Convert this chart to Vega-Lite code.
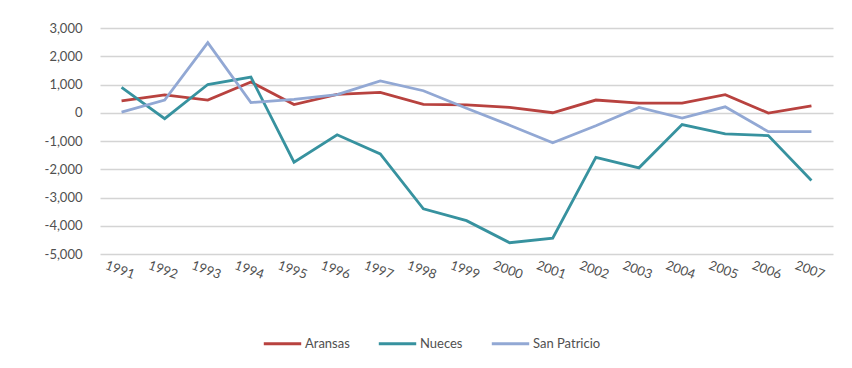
{
  "$schema": "https://vega.github.io/schema/vega-lite/v6.json",
  "width": 733,
  "height": 226,
  "autosize": {"type": "none"},
  "padding": {"left": 100, "top": 28, "right": 19, "bottom": 114},
  "background": "white",
  "config": {
    "view": {"stroke": null},
    "font": "Lato",
    "axis": {"labelFont": "Lato", "labelColor": "#505050", "labelFontSize": 13},
    "legend": {"labelFont": "Lato", "labelColor": "#505050", "labelFontSize": 13}
  },
  "data": {
    "values": [
      {"year": "1991", "county": "Aransas", "value": 420},
      {"year": "1992", "county": "Aransas", "value": 630},
      {"year": "1993", "county": "Aransas", "value": 450},
      {"year": "1994", "county": "Aransas", "value": 1090},
      {"year": "1995", "county": "Aransas", "value": 290},
      {"year": "1996", "county": "Aransas", "value": 650},
      {"year": "1997", "county": "Aransas", "value": 720},
      {"year": "1998", "county": "Aransas", "value": 300},
      {"year": "1999", "county": "Aransas", "value": 280},
      {"year": "2000", "county": "Aransas", "value": 190},
      {"year": "2001", "county": "Aransas", "value": 0},
      {"year": "2002", "county": "Aransas", "value": 450},
      {"year": "2003", "county": "Aransas", "value": 340},
      {"year": "2004", "county": "Aransas", "value": 340},
      {"year": "2005", "county": "Aransas", "value": 640},
      {"year": "2006", "county": "Aransas", "value": -10},
      {"year": "2007", "county": "Aransas", "value": 240},
      {"year": "1991", "county": "Nueces", "value": 900},
      {"year": "1992", "county": "Nueces", "value": -210},
      {"year": "1993", "county": "Nueces", "value": 1000},
      {"year": "1994", "county": "Nueces", "value": 1260},
      {"year": "1995", "county": "Nueces", "value": -1750},
      {"year": "1996", "county": "Nueces", "value": -780},
      {"year": "1997", "county": "Nueces", "value": -1460},
      {"year": "1998", "county": "Nueces", "value": -3400},
      {"year": "1999", "county": "Nueces", "value": -3820},
      {"year": "2000", "county": "Nueces", "value": -4600},
      {"year": "2001", "county": "Nueces", "value": -4440},
      {"year": "2002", "county": "Nueces", "value": -1580},
      {"year": "2003", "county": "Nueces", "value": -1950},
      {"year": "2004", "county": "Nueces", "value": -420},
      {"year": "2005", "county": "Nueces", "value": -750},
      {"year": "2006", "county": "Nueces", "value": -810},
      {"year": "2007", "county": "Nueces", "value": -2400},
      {"year": "1991", "county": "San Patricio", "value": 20},
      {"year": "1992", "county": "San Patricio", "value": 450},
      {"year": "1993", "county": "San Patricio", "value": 2480},
      {"year": "1994", "county": "San Patricio", "value": 360},
      {"year": "1995", "county": "San Patricio", "value": 470},
      {"year": "1996", "county": "San Patricio", "value": 640},
      {"year": "1997", "county": "San Patricio", "value": 1130},
      {"year": "1998", "county": "San Patricio", "value": 780},
      {"year": "1999", "county": "San Patricio", "value": 160},
      {"year": "2000", "county": "San Patricio", "value": -440},
      {"year": "2001", "county": "San Patricio", "value": -1060},
      {"year": "2002", "county": "San Patricio", "value": -460},
      {"year": "2003", "county": "San Patricio", "value": 190},
      {"year": "2004", "county": "San Patricio", "value": -190},
      {"year": "2005", "county": "San Patricio", "value": 210},
      {"year": "2006", "county": "San Patricio", "value": -670},
      {"year": "2007", "county": "San Patricio", "value": -670}
    ]
  },
  "mark": {"type": "line", "strokeWidth": 2.8},
  "encoding": {
    "x": {
      "field": "year",
      "type": "ordinal",
      "title": null,
      "axis": {
        "labelAngle": 20,
        "labelAlign": "center",
        "labelBaseline": "top",
        "labelPadding": 10,
        "ticks": false,
        "domain": false,
        "grid": false
      }
    },
    "y": {
      "field": "value",
      "type": "quantitative",
      "title": null,
      "scale": {"domain": [-5000, 3000], "nice": false},
      "axis": {
        "values": [-5000, -4000, -3000, -2000, -1000, 0, 1000, 2000, 3000],
        "labelExpr": "replace(format(datum.value, ','), '\u2212', '-')",
        "ticks": false,
        "domain": false,
        "grid": true,
        "gridColor": "#D4D4D4",
        "gridWidth": 1.6,
        "labelPadding": 18
      }
    },
    "color": {
      "field": "county",
      "type": "nominal",
      "title": null,
      "scale": {
        "domain": ["Aransas", "Nueces", "San Patricio"],
        "range": ["#B8423F", "#37929F", "#92A8D4"]
      },
      "legend": {
        "orient": "none",
        "legendX": 162,
        "legendY": 295,
        "direction": "horizontal",
        "symbolType": "stroke",
        "symbolSize": 1400,
        "symbolStrokeWidth": 3,
        "columnPadding": 22,
        "labelOffset": 2
      }
    }
  }
}
